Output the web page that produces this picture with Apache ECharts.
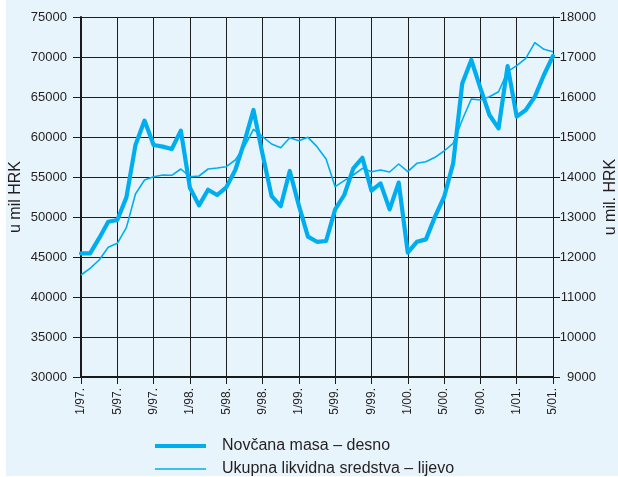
<!DOCTYPE html>
<html>
<head>
<meta charset="utf-8">
<script src="https://cdn.jsdelivr.net/npm/echarts@6/dist/echarts.min.js"></script>
<style>
html,body{margin:0;padding:0;background:#ffffff;}
#bg{position:absolute;left:6px;top:0;width:612px;height:476px;background:#e8f4fc;}
#chart{position:absolute;left:0;top:0;width:618px;height:477px;}
</style>
</head>
<body>
<div id="bg"></div>
<div id="chart"></div>
<script>
// Month categories 1/97. .. 5/01.
const months = [
  "1/97.","2/97.","3/97.","4/97.","5/97.","6/97.","7/97.","8/97.","9/97.","10/97.","11/97.","12/97.",
  "1/98.","2/98.","3/98.","4/98.","5/98.","6/98.","7/98.","8/98.","9/98.","10/98.","11/98.","12/98.",
  "1/99.","2/99.","3/99.","4/99.","5/99.","6/99.","7/99.","8/99.","9/99.","10/99.","11/99.","12/99.",
  "1/00.","2/00.","3/00.","4/00.","5/00.","6/00.","7/00.","8/00.","9/00.","10/00.","11/00.","12/00.",
  "1/01.","2/01.","3/01.","4/01.","5/01."
];
// Novčana masa (right axis, u mil. HRK)
const novcanaMasa = [
  12090,12090,12470,12880,12925,13490,14800,15410,14800,14760,14700,15160,
  13730,13290,13680,13550,13740,14175,14880,15675,14570,13520,13270,14150,
  13290,12510,12380,12400,13190,13550,14215,14480,13660,13840,13190,13860,
  12110,12380,12440,13010,13500,14340,16340,16925,16220,15550,15215,16775,
  15510,15675,16010,16550,17025
];
// Ukupna likvidna sredstva (left axis, u mil HRK)
const ukupnaLikvidna = [
  42750,43580,44625,46210,46710,48670,52875,54625,55040,55250,55210,56000,
  55040,55125,56000,56125,56290,57125,58790,60960,60040,59125,58665,59915,
  59540,59960,58790,57250,53790,54540,55250,56080,55665,55875,55625,56625,
  55665,56710,56915,57460,58250,59210,62125,64750,64625,65040,65660,68165,
  68915,69835,71790,70960,70665
];
const seriesNames = ["Novčana masa – desno", "Ukupna likvidna sredstva – lijevo"];
const axisNames = ["u mil HRK", "u mil. HRK"];

const FONT = "Liberation Sans, Arial, Helvetica, sans-serif";
const TXT = "#231f20";
const LINE = "#00aeef";

const chart = echarts.init(document.getElementById('chart'), null, {renderer: 'canvas'});
chart.setOption({
  backgroundColor: 'transparent',
  animation: false,
  grid: {left: 81, right: 65, top: 17, bottom: 100, containLabel: false, outerBoundsMode: 'none'},
  legend: {
    orient: 'vertical',
    left: 155,
    top: 438,
    padding: 0,
    itemWidth: 51,
    itemHeight: 16,
    itemGap: 7,
    symbolKeepAspect: true,
    data: [
      {name: seriesNames[0], icon: 'path://M0,0H51V4.2H0Z'},
      {name: seriesNames[1], icon: 'path://M0,0H51V1.6H0Z'}
    ],
    itemStyle: {color: LINE},
    textStyle: {fontFamily: FONT, fontSize: 16, color: TXT, padding: [0, 0, 0, 11]},
    selectedMode: false
  },
  xAxis: {
    type: 'category',
    boundaryGap: false,
    data: months,
    axisLine: {show: true, onZero: false, lineStyle: {color: '#1a1a1a', width: 2}},
    axisTick: {show: true, interval: 3, length: 7, inside: false, lineStyle: {color: '#1a1a1a', width: 1}},
    axisLabel: {interval: 3, rotate: 90, margin: 11, fontFamily: FONT, fontSize: 12, color: TXT},
    splitLine: {show: true, interval: 3, lineStyle: {color: '#1e1e1e', width: 1}}
  },
  yAxis: [
    {
      type: 'value',
      min: 30000, max: 75000, interval: 5000,
      position: 'left',
      name: axisNames[0],
      nameLocation: 'middle',
      nameGap: 57,
      nameMoveOverlap: false,
      nameTextStyle: {fontFamily: FONT, fontSize: 16, color: TXT},
      axisLine: {show: true, lineStyle: {color: '#1a1a1a', width: 2}},
      axisTick: {show: true, length: 8, lineStyle: {color: '#1a1a1a', width: 1}},
      axisLabel: {margin: 14, fontFamily: FONT, fontSize: 13, color: TXT, formatter: v => String(v)},
      splitLine: {show: true, lineStyle: {color: '#1e1e1e', width: 1}}
    },
    {
      type: 'value',
      min: 9000, max: 18000, interval: 1000,
      position: 'right',
      name: axisNames[1],
      nameLocation: 'middle',
      nameGap: 50,
      nameRotate: 90,
      nameMoveOverlap: false,
      nameTextStyle: {fontFamily: FONT, fontSize: 16, color: TXT},
      axisLine: {show: true, lineStyle: {color: '#1a1a1a', width: 1}},
      axisTick: {show: true, length: 7, lineStyle: {color: '#1a1a1a', width: 1}},
      axisLabel: {margin: 43, align: 'right', fontFamily: FONT, fontSize: 13, color: TXT, formatter: v => String(v)},
      splitLine: {show: false}
    }
  ],
  series: [
    {
      name: seriesNames[1],
      type: 'line',
      yAxisIndex: 0,
      data: ukupnaLikvidna,
      symbol: 'none',
      lineStyle: {color: LINE, width: 1.6, join: 'round'},
      itemStyle: {color: LINE},
      z: 3
    },
    {
      name: seriesNames[0],
      type: 'line',
      yAxisIndex: 1,
      data: novcanaMasa,
      symbol: 'none',
      lineStyle: {color: LINE, width: 4.2, join: 'round', cap: 'round'},
      itemStyle: {color: LINE},
      z: 4
    }
  ]
});
</script>
</body>
</html>
